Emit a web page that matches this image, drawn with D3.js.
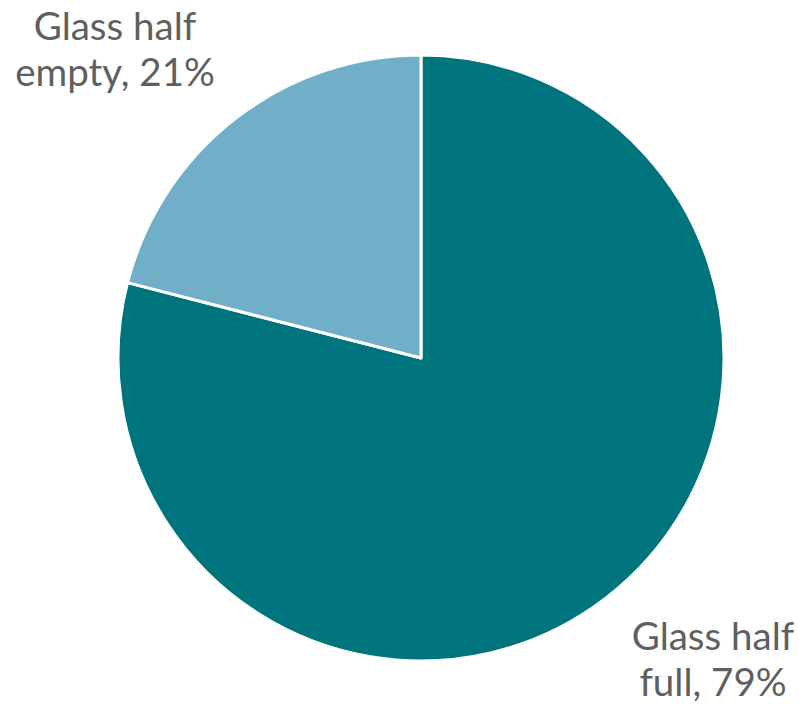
<!DOCTYPE html>
<html>
<head>
<meta charset="utf-8">
<script src="https://cdn.jsdelivr.net/npm/d3@7"></script>
<style>
  html, body { margin: 0; padding: 0; background: #fff; }
  svg { display: block; }
</style>
</head>
<body>
<svg id="chart" width="799" height="711"></svg>
<script>
// Pie slices, in drawing order (clockwise from 12 o'clock)
const categories = ["Glass half full", "Glass half empty"];
const values = [79, 21];
const colors = ["#00747C", "#71AFC8"];
// Two-line data labels per slice
const labelLines = [["Glass half", "full, 79%"], ["Glass half", "empty, 21%"]];
// Label anchor (centre of first line baseline) per slice
const labelPos = [[713, 650], [115, 40]];

const svg = d3.select("#chart");
const cx = 421, cy = 358, radius = 303;

const pie = d3.pie().sort(null).value(d => d.value);
const arc = d3.arc().innerRadius(0).outerRadius(radius);

const data = categories.map((c, i) => ({ name: c, value: values[i], color: colors[i] }));

const g = svg.append("g").attr("transform", `translate(${cx},${cy})`);
g.selectAll("path")
  .data(pie(data))
  .join("path")
  .attr("d", arc)
  .attr("fill", d => d.data.color)
  .attr("stroke", "#ffffff")
  .attr("stroke-width", 3)
  .attr("stroke-linejoin", "round");

const lineHeight = 46;
labelLines.forEach((lines, i) => {
  const t = svg.append("text")
    .attr("text-anchor", "middle")
    .attr("font-family", "Lato, 'Open Sans', sans-serif")
    .attr("font-size", 38.5)
    .attr("fill", "#5f5f5f");
  lines.forEach((ln, j) => {
    t.append("tspan")
      .attr("x", labelPos[i][0])
      .attr("y", labelPos[i][1] + j * lineHeight)
      .text(ln);
  });
});
</script>
</body>
</html>
